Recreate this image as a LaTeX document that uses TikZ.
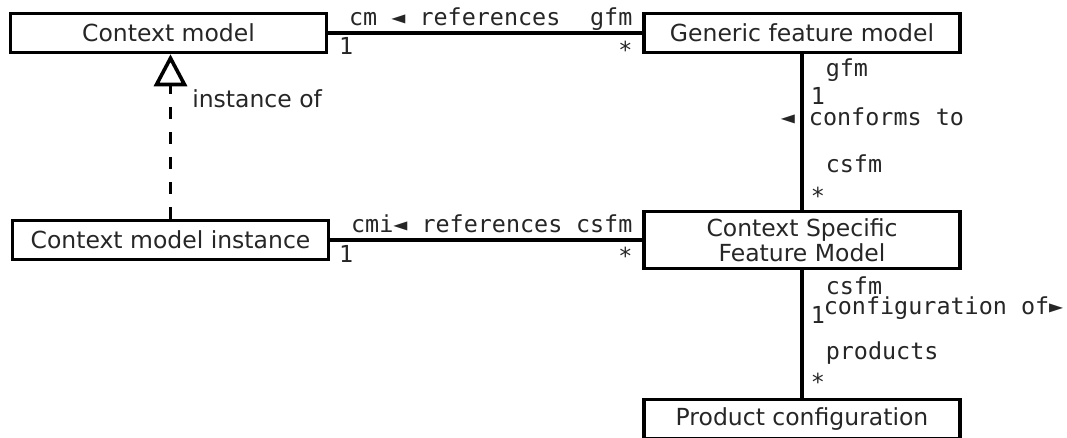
\documentclass[tikz,border=0pt]{standalone}
\usepackage{fontspec}
\setmainfont{DejaVu Sans}
\setmonofont{DejaVu Sans Mono}
\usetikzlibrary{arrows.meta}

\begin{document}
\begin{tikzpicture}[x=1pt, y=-1pt]
		\tikzstyle{klass}=[rectangle, draw, line width=3.6pt, minimum width=316pt, minimum height=39pt, inner sep=0pt, text=black!85, font=\fontsize{23.5}{25}\selectfont, align=center]
		\tikzstyle{role}=[inner sep=0pt, text=black!85, font=\fontsize{23.4}{25}\ttfamily]
		\tikzstyle{assoc}=[line width=3.6pt]

		\useasboundingbox (0,0) rectangle (1067,438);

		\node[klass] (cm) at (168.5,33) {Context model};

		\node[klass] (gfm) at (802,33) {Generic feature model};

		\node[klass] (cmi) at (170.5,240) {Context model instance};

		\node[klass, minimum height=57pt] (csfm) at (802,240) {
			Context Specific\\Feature Model
		};

		\node[klass] (pc) at (802,419) {Product configuration};

		\draw[assoc] (cm) -- (gfm)
			node[role, at start, anchor=base west, xshift=19pt, yshift=7pt] (cmref) {cm ◄ references}
			node[role, at start, anchor=base west, xshift=9pt, yshift=-22pt] (cmone) {1}
			node[role, at end, anchor=base east, xshift=-8pt, yshift=7pt] (gfmrole) {gfm}
			node[role, at end, anchor=base east, xshift=-8pt, yshift=-26pt] (gfmmany) {*};

		\draw[assoc] (cmi) -- (csfm)
			node[role, at start, anchor=base west, xshift=19pt, yshift=7pt] (cmiref) {cmi◄ references}
			node[role, at start, anchor=base west, xshift=7pt, yshift=-22pt] (cmione) {1}
			node[role, at end, anchor=base east, xshift=-8pt, yshift=7pt] (csfmrole) {csfm}
			node[role, at end, anchor=base east, xshift=-8pt, yshift=-24pt] (csfmmany) {*};

		\draw[assoc] (gfm) -- (csfm)
			node[role, at start, anchor=base west, xshift=22pt, yshift=-22pt] (gfmrole2) {gfm}
			node[role, at start, anchor=base west, xshift=7pt, yshift=-50pt] (gfmone) {1}
			node[role, at start, anchor=base west, xshift=-23pt, yshift=-71pt] (conforms) {◄ conforms to}
			node[role, at end, anchor=base west, xshift=22pt, yshift=37pt] (csfmrole2) {csfm}
			node[role, at end, anchor=base west, xshift=7pt, yshift=5pt] (csfmmany2) {*};

		\draw[assoc] (csfm) -- (pc)
			node[role, at start, anchor=base west, xshift=22pt, yshift=-24pt] (csfmrole3) {csfm}
			node[role, at start, anchor=base west, xshift=7pt, yshift=-53pt] (csfmone) {1}
			node[role, at start, anchor=base west, xshift=20pt, yshift=-44pt] (configof) {configuration of►}
			node[role, at end, anchor=base west, xshift=22pt, yshift=38pt] (prodrole) {products}
			node[role, at end, anchor=base west, xshift=7pt, yshift=7pt] (prodmany) {*};

		\draw[assoc, dash pattern=on 12pt off 13pt, -{Triangle[open, length=32pt, width=33pt, line width=3.6pt]}] (cmi) -- (cmi |- cm.south)
			node[at end, anchor=base west, inner sep=0pt, xshift=20pt, yshift=-53pt, text=black!85, font=\fontsize{23.5}{25}\selectfont] (instof) {instance of};

	\end{tikzpicture}
\end{document}
